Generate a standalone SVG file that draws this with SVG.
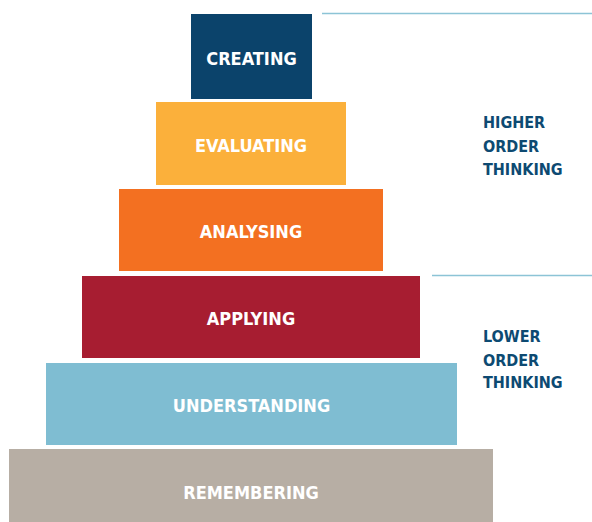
<svg xmlns="http://www.w3.org/2000/svg" width="592" height="522" viewBox="0 0 592 522">
<style>
.lbl{font-family:"DejaVu Sans Condensed","DejaVu Sans",sans-serif;font-weight:bold;font-size:18px;fill:#ffffff;text-anchor:middle}
.side{font-family:"DejaVu Sans Condensed","DejaVu Sans",sans-serif;font-weight:bold;font-size:16px;fill:#0d4a72}
.rule{stroke:#8cc4d6;stroke-width:1.5;fill:none}
</style>
<rect width="592" height="522" fill="#ffffff"/>
<g id="connectors">
<line class="rule" x1="322" y1="13.5" x2="592" y2="13.5"/>
<line class="rule" x1="432" y1="275.5" x2="592" y2="275.5"/>
</g>
<g id="creating"><rect x="191" y="14" width="121" height="85" fill="#0b436b"/><text class="lbl" x="251.5" y="65">CREATING</text></g>
<g id="evaluating"><rect x="156" y="102" width="190" height="83" fill="#fbb03b"/><text class="lbl" x="251" y="152">EVALUATING</text></g>
<g id="analysing"><rect x="119" y="189" width="264" height="82" fill="#f37021"/><text class="lbl" x="251" y="238">ANALYSING</text></g>
<g id="applying"><rect x="82" y="276" width="338" height="82" fill="#a71d31"/><text class="lbl" x="251" y="325">APPLYING</text></g>
<g id="understanding"><rect x="46" y="363" width="411" height="82" fill="#7fbdd2"/><text class="lbl" x="251.5" y="412">UNDERSTANDING</text></g>
<g id="remembering"><rect x="9" y="449" width="484" height="73" fill="#b7aea4"/><text class="lbl" x="251" y="499">REMEMBERING</text></g>
<g id="higher"><text class="side" x="483" y="128">HIGHER</text><text class="side" x="483" y="152">ORDER</text><text class="side" x="483" y="175">THINKING</text></g>
<g id="lower"><text class="side" x="483" y="342">LOWER</text><text class="side" x="483" y="366">ORDER</text><text class="side" x="483" y="388">THINKING</text></g>
</svg>
